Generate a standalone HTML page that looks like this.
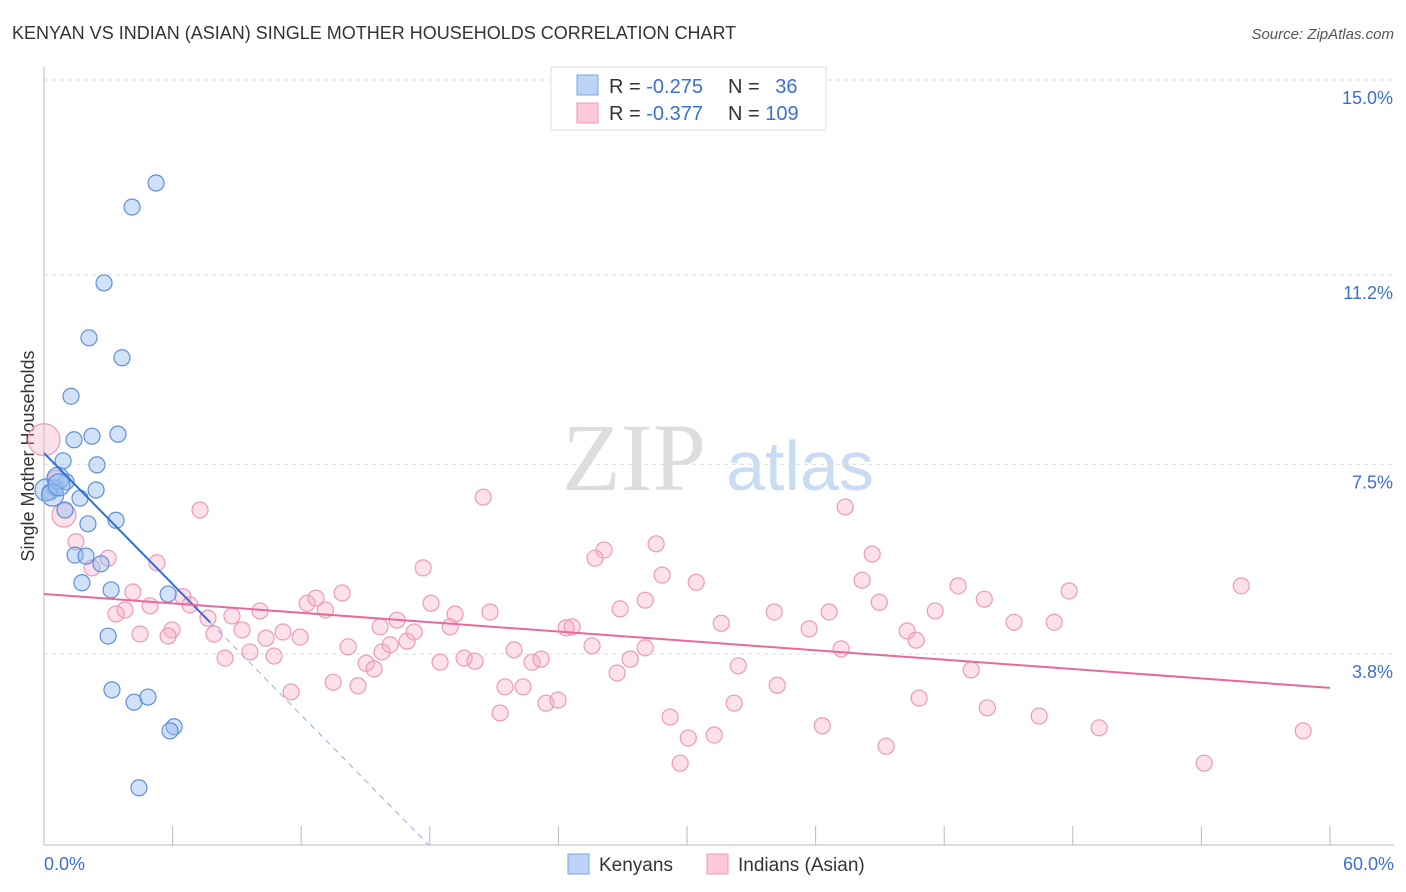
<!DOCTYPE html>
<html><head><meta charset="utf-8"><style>
body{margin:0;background:#fff;font-family:"Liberation Sans",sans-serif;}
svg{display:block}
</style></head><body>
<svg id="chart" width="1406" height="892" xmlns="http://www.w3.org/2000/svg">
<text x="12" y="39" font-size="18" fill="#333">KENYAN VS INDIAN (ASIAN) SINGLE MOTHER HOUSEHOLDS CORRELATION CHART</text>
<text x="1394" y="39" font-size="15" fill="#555" text-anchor="end" font-style="italic">Source: ZipAtlas.com</text>
<text transform="translate(34,456) rotate(-90)" font-size="18" fill="#333" text-anchor="middle">Single Mother Households</text>
<g>
<text x="634" y="490" font-size="96" fill="#ddd" text-anchor="middle" font-family="Liberation Serif,serif">ZIP</text>
<text x="800" y="490" font-size="70" fill="#c8dcf3" text-anchor="middle">atlas</text>
</g>
<g id="grid"></g>
<g id="axes"></g>
<g id="marks"></g>
<g id="trends"></g>
<g>
<rect x="551" y="67" width="275" height="63" fill="#fff" stroke="#ddd"/>
<rect x="577" y="75" width="21" height="20" fill="#bcd4f5" stroke="#7aa6e6"/>
<rect x="577" y="103" width="21" height="20" fill="#fbc9da" stroke="#ee9ab8"/>
<text x="609" y="93" font-size="20" fill="#333">R = <tspan fill="#3b6fd4">-0.275</tspan></text>
<text x="728" y="93" font-size="20" fill="#333">N = <tspan fill="#3b6fd4" dx="10">36</tspan></text>
<text x="609" y="120" font-size="20" fill="#333">R = <tspan fill="#3b6fd4">-0.377</tspan></text>
<text x="728" y="120" font-size="20" fill="#333">N = <tspan fill="#3b6fd4">109</tspan></text>
</g>
<g>
<rect x="568" y="854" width="21" height="20" fill="#bcd4f5" stroke="#7aa6e6"/>
<text x="599" y="871" font-size="19" fill="#333">Kenyans</text>
<rect x="707" y="854" width="21" height="20" fill="#fbc9da" stroke="#ee9ab8"/>
<text x="738" y="871" font-size="19" fill="#333">Indians (Asian)</text>
</g>
</svg>
<script>
const yTicks=[15.0,11.2,7.5,3.8];
const yTickLabels=["15.0%","11.2%","7.5%","3.8%"];
const xTickLabels=["0.0%","60.0%"];
const kenX=[5.23,4.11,2.80,2.10,3.64,1.26,1.40,2.24,3.45,2.47,0.89,1.03,0.51,0.28,2.43,1.68,0.98,2.05,3.36,1.45,1.96,2.66,1.77,3.13,5.79,2.99,3.17,4.20,4.85,6.07,5.88,4.43,0.09,0.65,0.4,0.7];
const kenY=[12.99,12.52,11.04,9.97,9.58,8.83,7.98,8.05,8.09,7.49,7.57,7.16,7.04,6.96,7.0,6.84,6.61,6.34,6.41,5.73,5.71,5.56,5.19,5.05,4.97,4.15,3.10,2.86,2.96,2.38,2.30,1.19,7.0,7.23,6.9,7.1];
const indX=[0,0.93,1.49,2.24,2.99,0.56,7.28,5.27,4.15,3.78,3.36,4.95,4.48,5.97,5.79,6.48,6.81,7.65,7.93,8.45,8.77,9.24,9.61,10.08,10.36,10.73,11.15,11.53,11.95,12.28,12.69,13.13,13.49,13.91,14.19,14.65,15.03,15.40,15.77,15.68,16.15,16.47,16.94,17.27,17.69,18.06,18.48,18.95,19.18,19.60,20.11,20.49,20.81,21.28,21.51,21.93,22.35,22.77,23.19,23.42,23.98,24.36,24.64,25.57,25.71,26.13,26.74,26.88,27.35,28.05,28.05,28.56,28.84,29.21,29.68,30.06,30.43,31.27,31.60,32.20,32.39,34.07,34.21,35.70,36.31,36.63,37.19,37.38,38.17,38.64,38.97,39.29,40.27,40.69,40.83,41.58,42.65,43.26,43.87,44.01,45.26,46.43,47.13,47.83,49.23,54.13,55.86,58.75];
const indY=[7.98,6.51,5.99,5.48,5.67,7.23,6.61,5.58,5.01,4.66,4.58,4.74,4.19,4.27,4.15,4.92,4.76,4.50,4.19,3.72,4.54,4.27,3.84,4.64,4.11,3.76,4.23,3.06,4.13,4.79,4.89,4.66,3.25,4.99,3.94,3.18,3.62,3.51,3.84,4.33,3.98,4.46,4.05,4.23,5.48,4.79,3.64,4.33,4.58,3.72,3.66,6.86,4.62,2.65,3.16,3.88,3.16,3.64,3.70,2.84,2.90,4.31,4.33,3.96,5.67,5.83,3.43,4.68,3.70,3.92,4.85,5.95,5.34,2.57,1.67,2.16,5.20,2.22,4.40,2.84,3.57,4.62,3.19,4.29,2.40,4.62,3.90,6.67,5.24,5.75,4.81,2.00,4.25,4.07,2.94,4.64,5.13,3.49,4.87,2.75,4.42,2.59,4.42,5.03,2.36,1.67,5.13,2.30];
const kenTrend=[7.72,-0.426];
const indTrend=[4.97,-0.0305];
const NS="http://www.w3.org/2000/svg";
const X0=44,X1=1330,Y15=80,PPY=51.25;
function sx(v){return X0+v*(X1-X0)/60;}
function sy(v){return Y15+(15-v)*PPY;}
function mk(tag,attrs,parent){const e=document.createElementNS(NS,tag);for(const k in attrs)e.setAttribute(k,attrs[k]);document.getElementById(parent).appendChild(e);return e;}
yTicks.forEach((t,i)=>{
 const l=mk('line',{x1:44,x2:1394,y1:sy(t),y2:sy(t),stroke:'#ddd','stroke-dasharray':'4,4'},'grid');
 
 
 const tx=mk('text',{x:1393,y:sy(t)+24,'font-size':18,fill:'#3b6fd4','text-anchor':'end'},'grid');
 tx.textContent=yTickLabels[i];
 
 
});
let ax=mk('line',{x1:44,x2:44,y1:67,y2:845,stroke:'#bbb'},'axes');


ax=mk('line',{x1:44,x2:1394,y1:845,y2:845,stroke:'#bbb'},'axes');


for(let i=0;i<=10;i++){
 const t=mk('line',{x1:sx(i*6),x2:sx(i*6),y1:826,y2:845,stroke:'#bbb'},'axes');
 
 
}
let xl=mk('text',{x:44,y:870,'font-size':18,fill:'#3b6fd4'},'axes');xl.textContent=xTickLabels[0];


xl=mk('text',{x:1394,y:870,'font-size':18,fill:'#3b6fd4','text-anchor':'end'},'axes');xl.textContent=xTickLabels[1];


indX.forEach((x,i)=>{
 const r=i==0?16:(i==1?12:8);
 const c=mk('circle',{cx:sx(x),cy:sy(indY[i]),r:r,fill:'rgba(245,170,198,0.35)',stroke:'#ec9ab8','stroke-width':1.2},'marks');
 
 
});
kenX.forEach((x,i)=>{
 const r=i>=32?11:8;
 const c=mk('circle',{cx:sx(x),cy:sy(kenY[i]),r:r,fill:'rgba(150,188,240,0.45)',stroke:'#5e8fd9','stroke-width':1.2},'marks');
 
 
});
const kEnd=7.75, kZero=(kenTrend[0]-0.07)/(-kenTrend[1]);
let tl=mk('line',{x1:sx(0),y1:sy(kenTrend[0]),x2:sx(kEnd),y2:sy(kenTrend[0]+kenTrend[1]*kEnd),stroke:'#2f6fd6','stroke-width':2},'trends');


tl=mk('line',{x1:sx(kEnd),y1:sy(kenTrend[0]+kenTrend[1]*kEnd),x2:sx(kZero),y2:sy(0.07),stroke:'#8fb0e6','stroke-width':1,'stroke-dasharray':'6,5'},'trends');


tl=mk('line',{x1:sx(0),y1:sy(indTrend[0]),x2:sx(60),y2:sy(indTrend[0]+indTrend[1]*60),stroke:'#e8699a','stroke-width':2},'trends');


</script>
</body></html>
